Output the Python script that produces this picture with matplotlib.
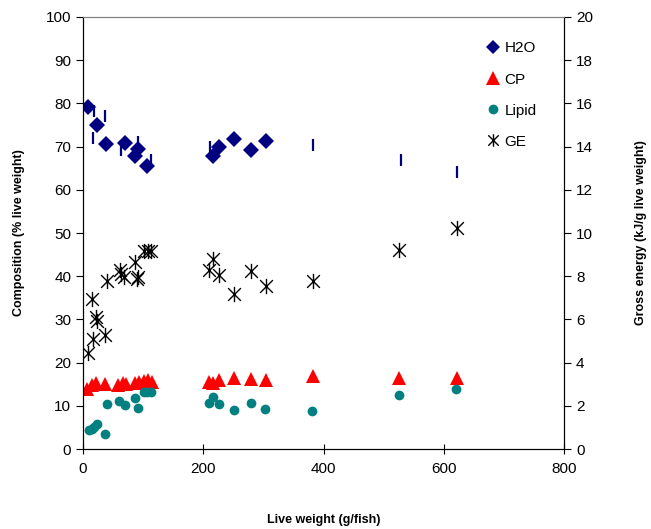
import numpy as np
import matplotlib.pyplot as plt
from matplotlib.path import Path
from matplotlib.lines import Line2D

plt.rcParams['font.family'] = ['Liberation Sans', 'DejaVu Sans']

# H2O (% live weight)
h2o_x = [8, 23, 38, 70, 86, 91, 106, 216, 226, 251, 279, 304]
h2o_y = [79.2, 75.1, 70.7, 70.9, 67.9, 69.5, 65.4, 67.9, 70.0, 71.8, 69.3, 71.4]

# unlabelled dash series
dash_x = [18, 16, 37, 63, 91, 113, 211, 382, 528, 622]
dash_y = [78.3, 72.1, 77.1, 69.3, 71.1, 67.0, 70.0, 70.4, 67.0, 64.2]

# CP (% live weight)
cp_x = [7, 15, 22, 36, 59, 66, 72, 87, 93, 102, 108, 114,
        209, 216, 226, 251, 279, 304, 382, 526, 622]
cp_y = [13.8, 14.8, 15.3, 15.0, 14.8, 15.2, 15.0, 15.4, 15.6, 15.8, 15.9, 15.5,
        15.5, 15.2, 15.9, 16.4, 16.2, 15.9, 16.9, 16.4, 16.4]

# Lipid (% live weight)
lip_x = [10, 15, 18, 23, 37, 40, 60, 70, 86, 91, 101, 107, 113,
         209, 217, 226, 251, 279, 302, 380, 526, 621]
lip_y = [4.4, 4.6, 5.1, 5.8, 3.5, 10.4, 11.1, 10.2, 11.8, 9.5, 13.2, 13.2, 13.2,
         10.6, 12.0, 10.4, 9.0, 10.6, 9.2, 8.8, 12.5, 13.9]

# GE (kJ/g live weight)
ge_x = [8, 17, 37, 22, 23, 15, 40, 61, 63, 68, 86, 91, 90, 101, 108, 113,
        216, 209, 226, 251, 279, 304, 382, 526, 622]
ge_y = [4.45, 5.1, 5.3, 6.1, 5.95, 6.95, 7.8, 8.3, 8.1, 7.95, 8.65, 7.95, 7.85,
        9.15, 9.15, 9.15, 8.8, 8.3, 8.05, 7.2, 8.25, 7.55, 7.8, 9.2, 10.25]

# excel style star: X plus vertical bar
star = Path([(-1, -1), (1, 1), (-1, 1), (1, -1), (0, -1.2), (0, 1.2)],
            [Path.MOVETO, Path.LINETO, Path.MOVETO, Path.LINETO, Path.MOVETO, Path.LINETO])

fig = plt.figure(figsize=(6.51, 5.29), dpi=100)
ax = fig.add_axes([0.1275, 0.151, 0.739, 0.817])
ax2 = ax.twinx()

ax.plot(dash_x, dash_y, ls='none', marker='|', ms=9, mew=1.6, color='#000080')
ax.plot(h2o_x, h2o_y, ls='none', marker='D', ms=8, mew=0, color='#000080')
ax.plot(cp_x, cp_y, ls='none', marker='^', ms=10, mew=0, color='#ff0000')
ax.plot(lip_x, lip_y, ls='none', marker='o', ms=7, mew=0, color='#008080')
ax2.plot(ge_x, ge_y, ls='none', marker=star, ms=11, mew=1.0, color='black')

ax.set_xlim(0, 800)
ax.set_ylim(0, 100)
ax2.set_ylim(0, 20)
ax.set_xticks(np.arange(0, 801, 200))
ax.set_yticks(np.arange(0, 101, 10))
ax2.set_yticks(np.arange(0, 21, 2))

ax.tick_params(axis='x', direction='inout', length=7, labelsize=11, pad=6)
ax.tick_params(axis='y', direction='out', length=5, labelsize=11)
ax2.tick_params(axis='y', direction='out', length=5, labelsize=11)

for a in (ax, ax2):
    a.spines['top'].set_color('#808080')
    a.spines['top'].set_linewidth(0.8)

ax.set_xlabel('Live weight (g/fish)', fontsize=9, fontweight='bold', labelpad=27)
ax.set_ylabel('Composition (% live weight)', fontsize=9, fontweight='bold', labelpad=15)
ax2.set_ylabel('Gross energy (kJ/g live weight)', fontsize=9, fontweight='bold', labelpad=30)

handles = [
    Line2D([], [], ls='none', marker='D', ms=7, mew=0, color='#000080'),
    Line2D([], [], ls='none', marker='^', ms=10, mew=0, color='#ff0000'),
    Line2D([], [], ls='none', marker='o', ms=7, mew=0, color='#008080'),
    Line2D([], [], ls='none', marker=star, ms=9, mew=1.0, color='black'),
]
ax2.legend(handles, ['H2O', 'CP', 'Lipid', 'GE'], loc='upper left',
           bbox_to_anchor=(0.808, 0.975), frameon=False, fontsize=11,
           handlelength=1.0, handletextpad=0.25, labelspacing=1.12)

fig.savefig('out.png', dpi=100)
